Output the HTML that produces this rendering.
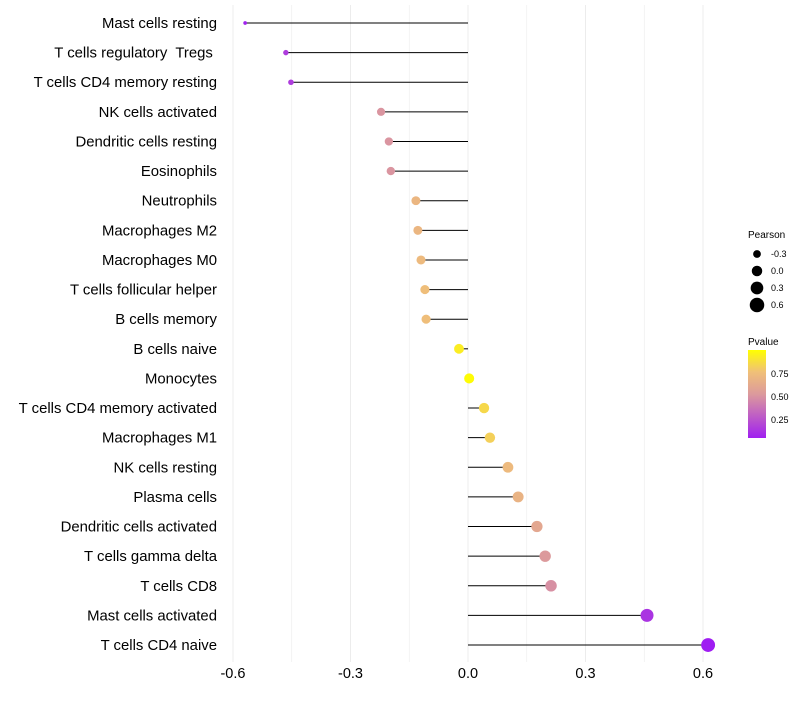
<!DOCTYPE html>
<html><head><meta charset="utf-8"><style>
body{margin:0;background:#fff;font-family:"Liberation Sans",sans-serif;}
text{white-space:pre;}
</style></head><body>
<svg id="chart" width="800" height="700" xmlns="http://www.w3.org/2000/svg">
<defs><linearGradient id="pg" x1="0" y1="1" x2="0" y2="0">
<stop offset="0" stop-color="#a020f0"/><stop offset="0.5" stop-color="#dc9a9c"/><stop offset="0.75" stop-color="#f0c078"/><stop offset="1" stop-color="#ffff00"/></linearGradient></defs>
<g id="grid"></g><g id="marks"></g><g id="labels"></g>
<g font-size="9" fill="#000">
<text x="748" y="238" font-size="10">Pearson</text>
<g id="sizeleg"></g>
</g>
<g font-size="9">
<text x="748" y="345" font-size="10">Pvalue</text>
<rect x="748" y="350" width="18" height="88" fill="url(#pg)"/>
<text x="771" y="377">0.75</text><text x="771" y="400">0.50</text><text x="771" y="423">0.25</text>
</g>
</svg>
<script>
const categories=["Mast cells resting","T cells regulatory  Tregs ","T cells CD4 memory resting","NK cells activated","Dendritic cells resting","Eosinophils","Neutrophils","Macrophages M2","Macrophages M0","T cells follicular helper","B cells memory","B cells naive","Monocytes","T cells CD4 memory activated","Macrophages M1","NK cells resting","Plasma cells","Dendritic cells activated","T cells gamma delta","T cells CD8","Mast cells activated","T cells CD4 naive"];
const pearson=[-0.569,-0.465,-0.452,-0.222,-0.202,-0.197,-0.133,-0.128,-0.12,-0.11,-0.107,-0.023,0.003,0.041,0.056,0.102,0.128,0.176,0.197,0.212,0.457,0.613];
const pvalues=[0.05,0.15,0.15,0.5,0.5,0.5,0.7,0.7,0.72,0.75,0.75,0.93,0.99,0.85,0.82,0.72,0.68,0.6,0.52,0.48,0.12,0.03];
const xticks=[-0.6,-0.3,0.0,0.3,0.6];
const xtickLabels=["-0.6","-0.3","0.0","0.3","0.6"];
const legendSizes=[-0.3,0.0,0.3,0.6];
const NS="http://www.w3.org/2000/svg";
const x=v=>468+v*391.7;
const y=i=>23+i*29.62;
const r=v=>Math.sqrt(Math.max(2,25+38*v));
function lerp(a,b,t){return a.map((c,k)=>Math.round(c+(b[k]-c)*t));}
const stops=[[0,[160,32,240]],[0.5,[220,154,156]],[0.75,[240,192,120]],[1,[255,255,0]]];
function col(p){const t=(p-0.04)/0.96;for(let k=1;k<stops.length;k++){if(t<=stops[k][0]){const a=stops[k-1],b=stops[k];return "rgb("+lerp(a[1],b[1],(t-a[0])/(b[0]-a[0])).join(",")+")";}}return "rgb(255,255,0)";}
function mk(tag,attrs,parent){const e=document.createElementNS(NS,tag);for(const k in attrs)e.setAttribute(k,attrs[k]);parent.appendChild(e);return e;}
const grid=document.getElementById('grid'),marks=document.getElementById('marks'),labels=document.getElementById('labels');
for(let v=-0.6;v<=0.61;v+=0.15){const g=mk('line',{x1:x(v),x2:x(v),y1:5,y2:662,stroke:'#ececec','stroke-width':Math.abs(Math.round(v/0.3)*0.3-v)<1e-6?1:0.6},grid);

}
xticks.forEach((v,i)=>{const t=mk('text',{x:x(v),y:678,'text-anchor':'middle','font-size':14.5,fill:'#000'},labels);t.textContent=xtickLabels[i];

});
categories.forEach((c,i)=>{
const t=mk('text',{x:217,y:y(i)+5,'text-anchor':'end','font-size':14.9,fill:'#000'},labels);t.textContent=c;


const l=mk('line',{x1:x(0),x2:x(pearson[i]),y1:y(i),y2:y(i),stroke:'#000','stroke-width':1},marks);


const d=mk('circle',{cx:x(pearson[i]),cy:y(i),r:r(pearson[i]),fill:col(pvalues[i])},marks);


});
const sl=document.getElementById('sizeleg');
legendSizes.forEach((v,i)=>{const cy=254+i*17;
const c=mk('circle',{cx:757,cy:cy,r:r(v)*1.05,fill:'#000'},sl);


const t=mk('text',{x:771,y:cy+3},sl);t.textContent=v.toFixed(1);

});
</script>
</body></html>
